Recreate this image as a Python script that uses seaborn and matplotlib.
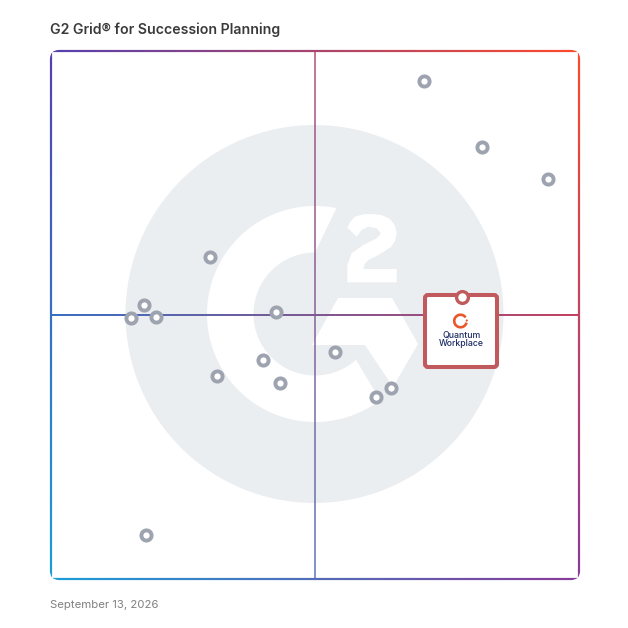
import numpy as np
import pandas as pd
import matplotlib
matplotlib.use("Agg")
import matplotlib.pyplot as plt
from matplotlib.patches import Circle, Polygon, FancyBboxPatch, PathPatch, Arc
from matplotlib.path import Path
import seaborn as sns

# Data (satisfaction vs market presence, 0-100 on each axis)
vendor_x = [70.7, 81.7, 94.2, 30.2, 17.7, 15.1, 19.8, 42.7, 40.1, 31.5, 43.3, 53.7, 64.3, 61.6, 17.9]
vendor_y = [94.3, 81.8, 75.8, 61.0, 51.9, 49.4, 49.6, 50.6, 41.5, 38.4, 37.1, 43.0, 36.2, 34.5, 8.3]
highlight_x = [77.8]
highlight_y = [53.4]
title_text = "G2 Grid® for Succession Planning"
date_text = "September 13, 2026"
logo_lines = ["Quantum", "Workplace"]

sns.set_theme(style="white")
plt.rcParams["font.family"] = ["Inter", "DejaVu Sans"]

K = 100 / 528
def P(px, py):
    return ((px - 51) * K, (579 - py) * K)
def L(n):
    return n * K

fig = plt.figure(figsize=(6.28, 6.28), dpi=100, facecolor="white")
ax = fig.add_axes([0, 0, 1, 1])
xlim = (P(0, 0)[0], P(628, 0)[0])
ylim = (P(0, 628)[1], P(0, 0)[1])

# watermark
BG = "#ebeef1"
cx, cy = P(315, 314)
ax.add_patch(Circle(P(314.5, 314), L(189), fc=BG, ec="none", zorder=1))
a_out = np.radians(np.linspace(78.6, 307.1, 120))
a_in = np.radians(np.linspace(311.8, 90, 120))
ring = np.r_[np.c_[cx + L(108) * np.cos(a_out), cy + L(108) * np.sin(a_out)],
             np.c_[cx + L(61.5) * np.cos(a_in), cy + L(61.5) * np.sin(a_in)]]
ax.add_patch(Polygon(ring, fc="white", ec="none", zorder=2))
hexa = [(338, 298), (392, 298), (418, 344), (393, 387), (365, 345), (312, 345)]
ax.add_patch(Polygon([P(*p) for p in hexa], fc="white", ec="none", zorder=2))
two_z = [(37, 68), (46, 50), (60, 35), (85, 28), (110, 27), (140, 30), (165, 42), (180, 62), (185, 85),
         (180, 108), (168, 126), (130, 150), (100, 165), (90, 175), (85, 192), (185, 192), (185, 232),
         (37, 232), (37, 180), (50, 145), (85, 120), (125, 100), (138, 85), (125, 70), (100, 65),
         (80, 75), (65, 95)]
ax.add_patch(Polygon([P(335 + x / 3, 205 + y / 3) for x, y in two_z], fc="white", ec="none", zorder=2))

# gradient frame + crosshair
corners = np.array([[[0x55, 0x40, 0xb0], [0xff, 0x4a, 0x2a]],
                    [[0x1a, 0x9f, 0xd8], [0x8a, 0x3a, 0x9a]]]) / 255
u, v = np.meshgrid(np.linspace(0, 1, 256), np.linspace(0, 1, 256))
grad = ((1 - v)[..., None] * ((1 - u)[..., None] * corners[0, 0] + u[..., None] * corners[0, 1])
        + v[..., None] * ((1 - u)[..., None] * corners[1, 0] + u[..., None] * corners[1, 1]))
x0, y0 = P(51, 579)
x1, y1 = P(579, 51)
pad = L(3)
ext = (x0 - pad, x1 + pad, y0 - pad, y1 + pad)


def rounded(grow, radius):
    return FancyBboxPatch((x0 - L(grow), y0 - L(grow)), x1 - x0 + 2 * L(grow), y1 - y0 + 2 * L(grow),
                          boxstyle=f"round,pad=0,rounding_size={L(radius)}").get_path()


outer = rounded(1.1, 9.5)
inner = rounded(-1.1, 7.5)
ring_path = Path(np.r_[outer.vertices, inner.vertices[::-1]],
                 np.r_[outer.codes, [Path.MOVETO], inner.codes[1:][::-1][1:], [Path.CLOSEPOLY]])
im1 = ax.imshow(grad, extent=ext, origin="upper", aspect="auto", zorder=3, interpolation="bilinear")
im1.set_clip_path(PathPatch(ring_path, transform=ax.transData))
mx, my = P(315, 315)
hw = L(0.75)
hline = Path([(x0, my - hw), (x1, my - hw), (x1, my + hw), (x0, my + hw), (x0, my - hw)], closed=True)
vline = Path([(mx - hw, y0), (mx + hw, y0), (mx + hw, y1), (mx - hw, y1), (mx - hw, y0)], closed=True)
im2 = ax.imshow(grad, extent=ext, origin="upper", aspect="auto", zorder=3.1, interpolation="bilinear")
im2.set_clip_path(PathPatch(hline, transform=ax.transData))
im3 = ax.imshow(grad, extent=ext, origin="upper", aspect="auto", zorder=3, interpolation="bilinear", alpha=0.72)
im3.set_clip_path(PathPatch(vline, transform=ax.transData))

# vendors
df = pd.DataFrame({"x": vendor_x, "y": vendor_y})
sns.scatterplot(data=df, x="x", y="y", ax=ax, s=54, color="white", edgecolor="#9ea3b0",
                linewidth=2.8, zorder=5, legend=False)

# highlighted vendor card
RED = "#c05a5c"
bx0, by0 = P(425, 367)
ax.add_patch(FancyBboxPatch((bx0, by0), L(72), L(72), boxstyle=f"round,pad=0,rounding_size={L(3)}",
                            fc="white", ec=RED, lw=2.9, zorder=6))
hdf = pd.DataFrame({"x": highlight_x, "y": highlight_y})
sns.scatterplot(data=hdf, x="x", y="y", ax=ax, s=72, color="white", edgecolor=RED,
                linewidth=2.4, zorder=7, legend=False)

# logo
ax.add_patch(Arc(P(460.5, 321), L(12.5), L(12.5), theta1=35, theta2=345, ec="#e8562a", lw=1.9, zorder=7))
ax.add_patch(Circle(P(466.8, 320.5), L(1.1), fc="#e8562a", ec="none", zorder=7))
for line, py in zip(logo_lines, (335, 343.8)):
    ax.text(*P(461.2, py), line, ha="center", va="center", fontsize=6.3, color="#1c2b63",
            fontweight="medium", zorder=7)

# texts
ax.text(*P(50, 29.5), title_text, ha="left", va="center", fontsize=10.15, fontweight="semibold", color="#3a3a3a")
ax.text(*P(50, 604.5), date_text, ha="left", va="center", fontsize=8.2, color="#808080")

ax.set_xlim(*xlim)
ax.set_ylim(*ylim)
ax.set_aspect("auto")
ax.axis("off")

fig.savefig("out.png", dpi=100, facecolor="white")
